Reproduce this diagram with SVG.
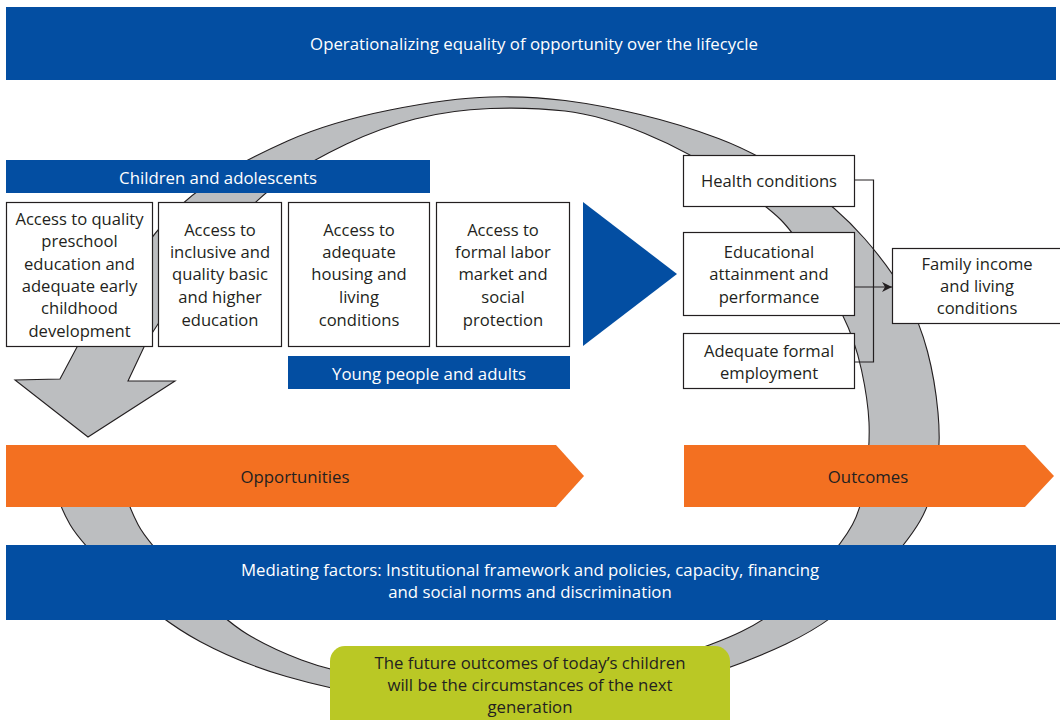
<svg xmlns="http://www.w3.org/2000/svg" width="1060" height="720" viewBox="0 0 1060 720">
<style>
.bar{fill:#034ea2}
.org{fill:#f37021}
.box{fill:#ffffff;stroke:#231f20;stroke-width:1.2}
.wt{fill:#ffffff;font-family:"Open Sans",Lato,sans-serif;font-size:16.8px;text-anchor:middle;dominant-baseline:central}
.dk{fill:#231f20;font-family:"Open Sans",Lato,sans-serif;font-size:16.8px;text-anchor:middle;dominant-baseline:central}
.bx{fill:#231f20;font-family:"Open Sans",Lato,sans-serif;font-size:16.6px;text-anchor:middle;dominant-baseline:central}
.ln{fill:none;stroke:#231f20;stroke-width:1.2}
</style>
<defs>
<marker id="ah" viewBox="0 0 10 10" refX="10" refY="5" markerWidth="10" markerHeight="10" markerUnits="userSpaceOnUse" orient="auto">
<path d="M0,0 L10,5 L0,10 L3,5 Z" fill="#231f20"/>
</marker>
</defs>
<rect width="1060" height="720" fill="#ffffff"/>

<g id="cycle-ring">
<path fill="#bcbec0" stroke="#231f20" stroke-width="1.1" stroke-linejoin="miter" d="M60,379 L77,347 L93.5,321 Q110,295 132.5,263.5 Q155,232 172.5,213.5 Q190,195 217.5,177.5 Q245,160 287.5,141 Q330,122 390,110 Q450,98 490,97 Q530,96 565,100.5 Q600,105 640,114.5 Q680,124 718.5,138.5 Q757,153 797,180 Q837,207 864.5,238.5 Q892,270 906,296.5 Q920,323 927.5,351.5 Q935,380 938,412.5 Q941,445 936.5,472.5 Q932,500 920,521 Q908,542 872.5,581 Q837,620 786,644 Q735,668 677.5,684 Q620,700 570,703 Q520,706 470,704 Q420,702 376.5,696 Q333,690 286.5,676.5 Q240,663 200,641.5 Q160,620 120,581 Q80,542 70,524.5 Q60,507 55,488.5 L50,470 L118,470 L123.5,488.5 Q129,507 138,524.5 Q147,542 185.5,581 Q224,620 247,634 Q270,648 301.5,660 Q333,672 376.5,678 Q420,684 470,685 Q520,686 570,680.5 Q620,675 669,659 Q718,643 741.5,631.5 Q765,620 782.5,605 Q800,590 821.5,566 Q843,542 852.5,524.5 Q862,507 866,476 Q870,445 869,422.5 Q868,400 861.5,370 Q855,340 842.5,315 Q830,290 811.5,261 Q793,232 780.5,219.5 Q768,207 729,179.5 Q690,152 645,133.5 Q600,115 565,111 Q530,107 490,108.5 Q450,110 415,119 Q380,128 346.5,144 Q313,160 286.5,177.5 Q260,195 230,228.5 Q200,262 177.5,295 Q155,328 149.5,337.5 L144,347 L128,381 L175,381 L88,437 L15,380 Z"/>
</g>

<g id="header">
<rect class="bar" x="6" y="7" width="1050" height="73"/>
<text class="wt" x="534" y="43">Operationalizing equality of opportunity over the lifecycle</text>
</g>

<g id="children-bar">
<rect class="bar" x="6" y="160" width="424" height="33"/>
<text class="wt" x="218" y="177">Children and adolescents</text>
</g>

<g id="box-preschool">
<rect class="box" x="6.5" y="202.5" width="146" height="144"/>
<text class="bx"><tspan x="79.5" y="218">Access to quality</tspan><tspan x="79.5" y="240">preschool</tspan><tspan x="79.5" y="263">education and</tspan><tspan x="79.5" y="285">adequate early</tspan><tspan x="79.5" y="307">childhood</tspan><tspan x="79.5" y="330">development</tspan></text>
</g>

<g id="box-education">
<rect class="box" x="158.5" y="202.5" width="123" height="144"/>
<text class="bx"><tspan x="220" y="229">Access to</tspan><tspan x="220" y="251">inclusive and</tspan><tspan x="220" y="273">quality basic</tspan><tspan x="220" y="296">and higher</tspan><tspan x="220" y="319">education</tspan></text>
</g>

<g id="box-housing">
<rect class="box" x="288.5" y="202.5" width="141" height="144"/>
<text class="bx"><tspan x="359" y="229">Access to</tspan><tspan x="359" y="251">adequate</tspan><tspan x="359" y="273">housing and</tspan><tspan x="359" y="296">living</tspan><tspan x="359" y="319">conditions</tspan></text>
</g>

<g id="box-labor">
<rect class="box" x="436.5" y="202.5" width="133" height="144"/>
<text class="bx"><tspan x="503" y="229">Access to</tspan><tspan x="503" y="251">formal labor</tspan><tspan x="503" y="273">market and</tspan><tspan x="503" y="296">social</tspan><tspan x="503" y="319">protection</tspan></text>
</g>

<g id="young-bar">
<rect class="bar" x="288" y="356" width="282" height="33"/>
<text class="wt" x="429" y="373">Young people and adults</text>
</g>

<g id="blue-triangle">
<polygon class="bar" points="583,202 677,274 583,346"/>
</g>

<g id="connectors">
<polyline class="ln" points="855,180 873.5,180 873.5,362 855,362"/>
<line class="ln" x1="855" y1="287" x2="892" y2="287" marker-end="url(#ah)"/>
</g>

<g id="box-health">
<rect class="box" x="683.5" y="155.5" width="171" height="51"/>
<text class="bx" x="769" y="180">Health conditions</text>
</g>

<g id="box-attainment">
<rect class="box" x="683.5" y="232.5" width="171" height="83"/>
<text class="bx"><tspan x="769" y="251">Educational</tspan><tspan x="769" y="273">attainment and</tspan><tspan x="769" y="296">performance</tspan></text>
</g>

<g id="box-employment">
<rect class="box" x="683.5" y="333.5" width="171" height="55"/>
<text class="bx"><tspan x="769" y="350">Adequate formal</tspan><tspan x="769" y="372">employment</tspan></text>
</g>

<g id="box-family">
<rect class="box" x="892.5" y="248.5" width="170" height="75"/>
<text class="bx"><tspan x="977" y="263">Family income</tspan><tspan x="977" y="285">and living</tspan><tspan x="977" y="307">conditions</tspan></text>
</g>

<g id="opportunities">
<polygon class="org" points="6,445 556,445 584,476 556,507 6,507"/>
<text class="dk" x="295" y="476">Opportunities</text>
</g>

<g id="outcomes">
<polygon class="org" points="684,445 1025,445 1054,476 1025,507 684,507"/>
<text class="dk" x="868" y="476">Outcomes</text>
</g>

<g id="mediating">
<rect class="bar" x="6" y="545" width="1050" height="75"/>
<text class="wt"><tspan x="530" y="569">Mediating factors: Institutional framework and policies, capacity, financing</tspan><tspan x="530" y="591">and social norms and discrimination</tspan></text>
</g>

<g id="future-note">
<rect x="330" y="646" width="400" height="90" rx="15" ry="15" fill="#bac825"/>
<text class="dk"><tspan x="530" y="662">The future outcomes of today’s children</tspan><tspan x="530" y="684">will be the circumstances of the next</tspan><tspan x="530" y="706">generation</tspan></text>
</g>
</svg>
